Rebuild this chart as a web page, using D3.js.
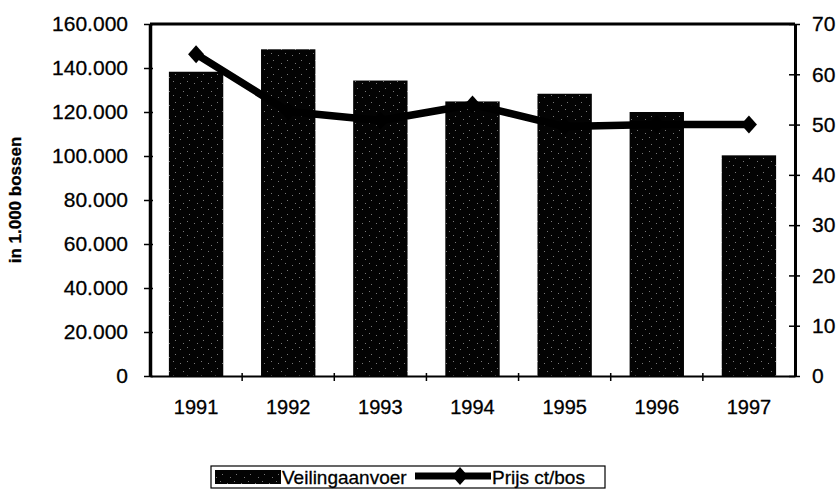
<!DOCTYPE html>
<html>
<head>
<meta charset="utf-8">
<script src="https://cdn.jsdelivr.net/npm/d3@7"></script>
<style>
  body { margin: 0; background: #fff; }
  text { font-family: "Liberation Sans", Arial, sans-serif; fill: #000; stroke: #000; stroke-width: 0.3px; }
</style>
</head>
<body>
<div id="chart"></div>
<script>
// data
const years = ["1991", "1992", "1993", "1994", "1995", "1996", "1997"];
const aanvoer = [138300, 148500, 134300, 124800, 128300, 120000, 100300];
const prijs = [64, 52.6, 50.8, 54, 49.6, 50, 50];
const leftTicks = [0, 20000, 40000, 60000, 80000, 100000, 120000, 140000, 160000];
const rightTicks = [0, 10, 20, 30, 40, 50, 60, 70];

const margin = {top: 24, right: 42, bottom: 124, left: 150},
  width = 837 - margin.left - margin.right,
  height = 500 - margin.top - margin.bottom;

const svg = d3.select("#chart")
  .append("svg")
  .attr("width", 837)
  .attr("height", 500);

// stippled dark fill for the bars
const pat = svg.append("defs").append("pattern")
  .attr("id", "stip")
  .attr("patternUnits", "userSpaceOnUse")
  .attr("width", 14).attr("height", 14);
pat.append("rect").attr("width", 14).attr("height", 14).attr("fill", "#030303");
[[2, 3], [9, 1], [11, 8], [5, 11]].forEach(p => {
  pat.append("rect").attr("x", p[0]).attr("y", p[1])
    .attr("width", 1).attr("height", 1).attr("fill", "#777");
});

const g = svg.append("g")
  .attr("transform", `translate(${margin.left}, ${margin.top})`);

const x = d3.scaleBand().domain(years).range([0, width]).padding(0);
const y = d3.scaleLinear().domain([0, 160000]).range([height, 0]);
const y2 = d3.scaleLinear().domain([0, 70]).range([height, 0]);

const fmt = d => d3.format(",")(d).replace(/,/g, ".");
const barW = x.bandwidth() * 0.59;

// bars
g.selectAll(".bar")
  .data(aanvoer)
  .join("rect")
  .attr("class", "bar")
  .attr("x", (d, i) => x(years[i]) + (x.bandwidth() - barW) / 2)
  .attr("y", d => y(d))
  .attr("width", barW)
  .attr("height", d => height - y(d))
  .attr("fill", "url(#stip)");

// frame: top line
g.append("line")
  .attr("x1", 0).attr("x2", width)
  .attr("y1", 0).attr("y2", 0)
  .attr("stroke", "#000").attr("stroke-width", 3);

// left axis
const la = g.append("g")
  .call(d3.axisLeft(y).tickValues(leftTicks).tickFormat(fmt).tickSize(0).tickPadding(22));
la.select(".domain").attr("stroke-width", 3.5);
la.selectAll("text").style("font-size", "21px");
la.selectAll(".tick line").attr("x1", -6).attr("x2", 3).attr("stroke-width", 1.5);

// right axis
const ra = g.append("g")
  .attr("transform", `translate(${width}, 0)`)
  .call(d3.axisRight(y2).tickValues(rightTicks).tickSize(0).tickPadding(17));
ra.select(".domain").attr("stroke-width", 3);
ra.selectAll("text").style("font-size", "21px");
ra.selectAll(".tick line").attr("x1", -6).attr("x2", 5).attr("stroke-width", 1.5);

// bottom axis
const ba = g.append("g")
  .attr("transform", `translate(0, ${height})`)
  .call(d3.axisBottom(x).tickSize(0).tickPadding(24));
ba.select(".domain").attr("stroke-width", 2);
ba.selectAll("text").style("font-size", "20px");
ba.selectAll(".sep")
  .data(years.slice(1))
  .join("line")
  .attr("x1", d => x(d)).attr("x2", d => x(d))
  .attr("y1", -3).attr("y2", 5)
  .attr("stroke", "#000").attr("stroke-width", 1.5);

// price line
const cx = (d, i) => x(years[i]) + x.bandwidth() / 2;
const line = d3.line().x(cx).y(d => y2(d));
g.append("path")
  .datum(prijs)
  .attr("d", line)
  .attr("fill", "none")
  .attr("stroke", "#000")
  .attr("stroke-width", 7.5)
  .attr("stroke-linejoin", "round");

const diamond = "M0,-9L8,0L0,9L-8,0Z";
g.selectAll(".pt")
  .data(prijs)
  .join("path")
  .attr("class", "pt")
  .attr("transform", (d, i) => `translate(${cx(d, i)}, ${y2(d)})`)
  .attr("d", diamond)
  .attr("fill", "#000");

// y title
svg.append("text")
  .attr("transform", `translate(21, ${margin.top + height / 2}) rotate(-90)`)
  .attr("text-anchor", "middle")
  .style("font-size", "17px")
  .style("font-weight", "bold")
  .text("in 1.000 bossen");

// legend
const lg = svg.append("g").attr("transform", "translate(211, 466)");
lg.append("rect")
  .attr("width", 394).attr("height", 22)
  .attr("fill", "#fff").attr("stroke", "#000").attr("stroke-width", 1.2);
lg.append("rect")
  .attr("x", 4).attr("y", 4).attr("width", 66).attr("height", 14)
  .attr("fill", "url(#stip)");
lg.append("text")
  .attr("x", 71).attr("y", 18)
  .style("font-size", "19px")
  .text("Veilingaanvoer");
lg.append("line")
  .attr("x1", 204).attr("x2", 280).attr("y1", 10).attr("y2", 10)
  .attr("stroke", "#000").attr("stroke-width", 7);
lg.append("path")
  .attr("transform", "translate(249, 10)")
  .attr("d", diamond)
  .attr("fill", "#000");
lg.append("text")
  .attr("x", 281).attr("y", 18)
  .style("font-size", "19px")
  .text("Prijs ct/bos");
</script>
</body>
</html>
